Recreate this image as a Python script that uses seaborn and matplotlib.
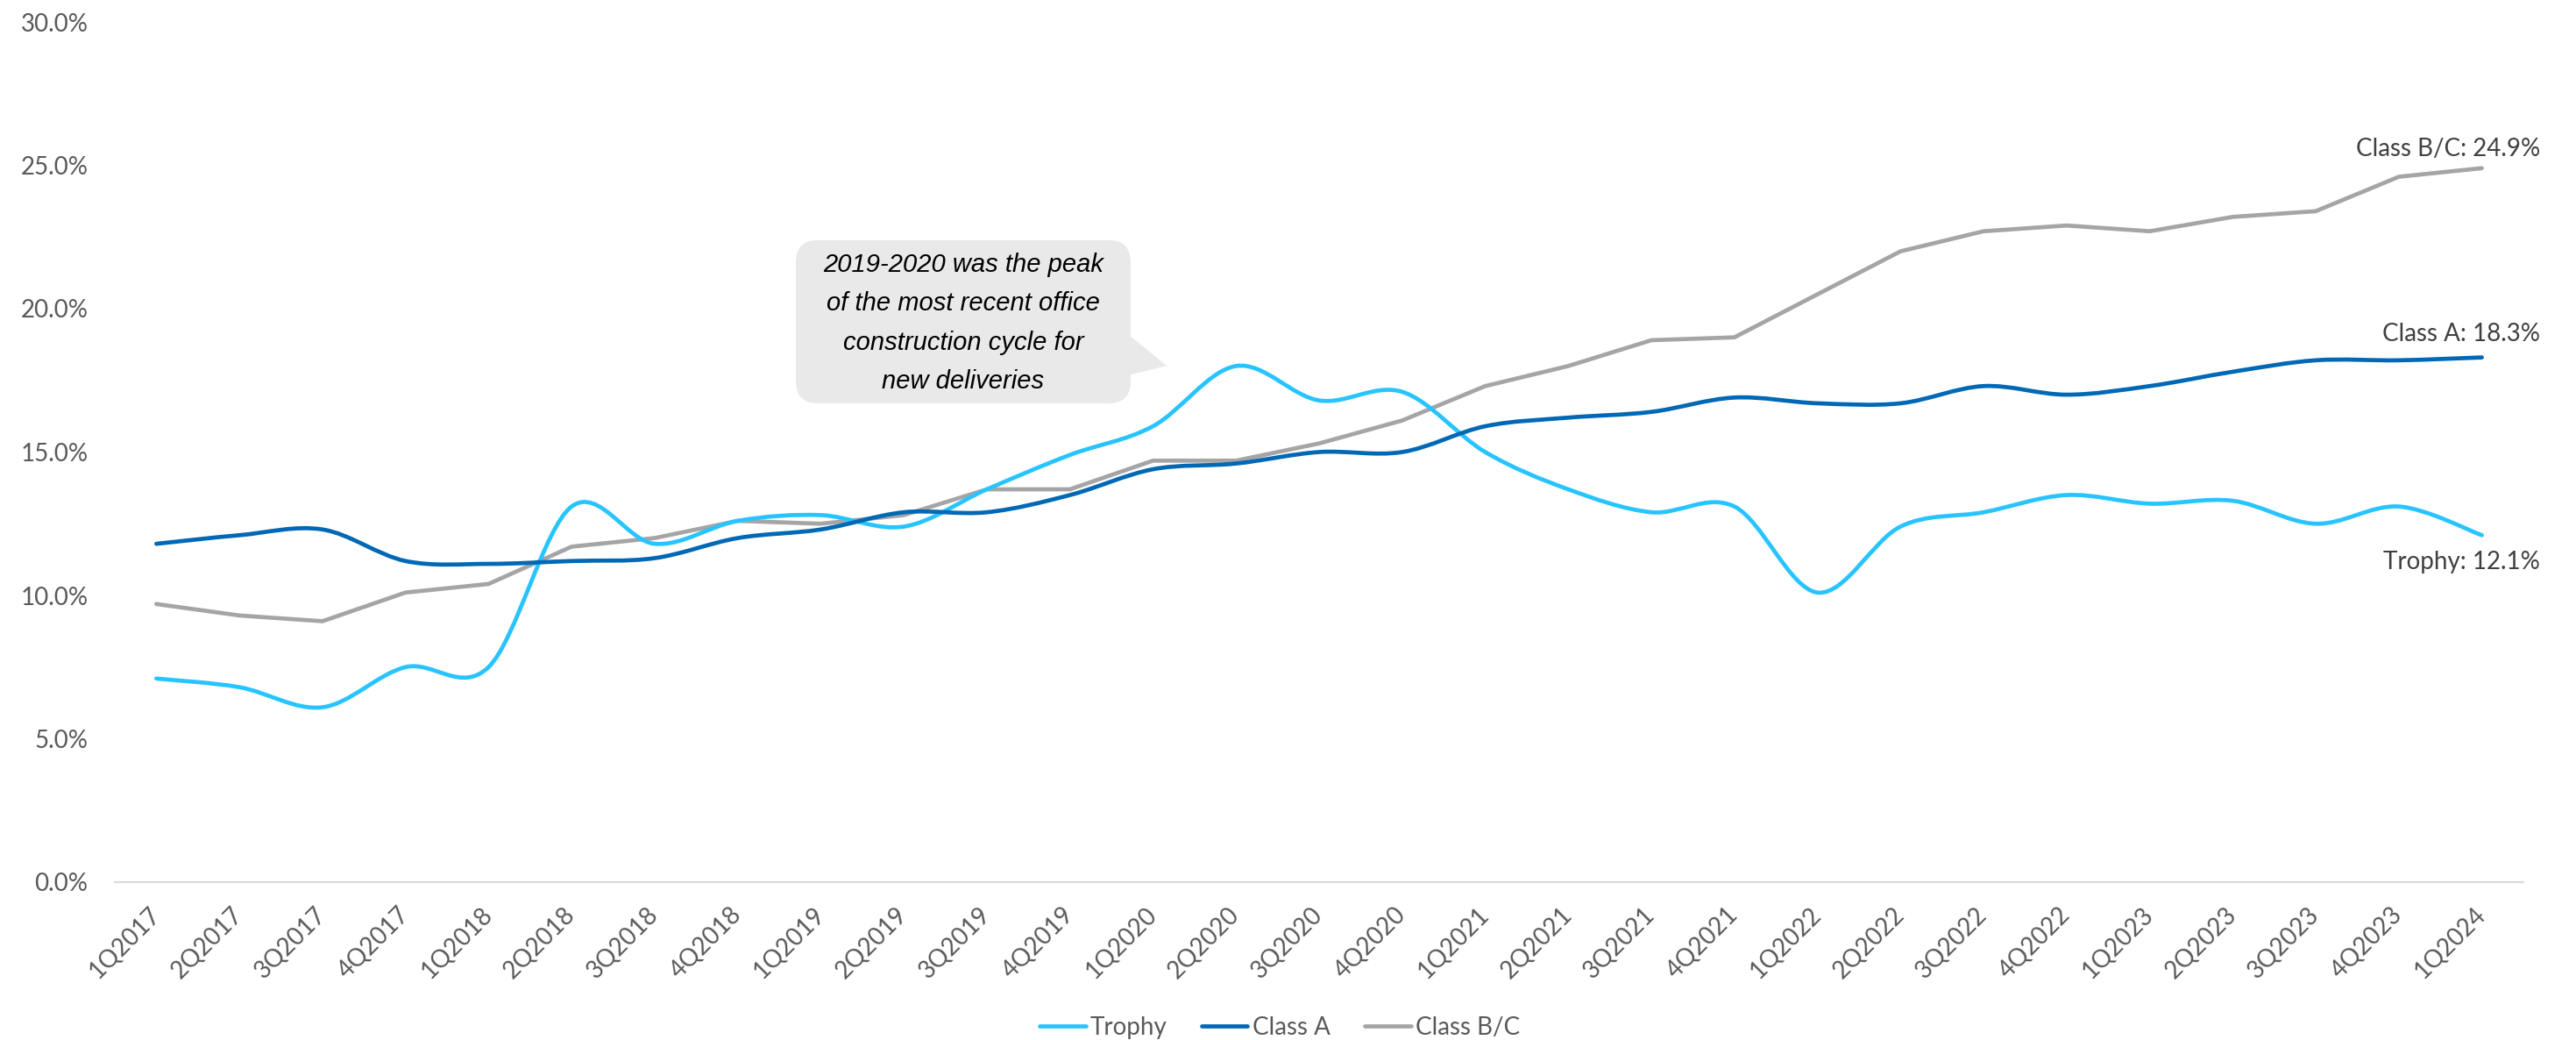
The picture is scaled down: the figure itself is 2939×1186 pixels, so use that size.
import numpy as np
import pandas as pd
import matplotlib
matplotlib.use("Agg")
import matplotlib.pyplot as plt
from matplotlib.path import Path
from matplotlib.patches import PathPatch, FancyBboxPatch, Polygon
import seaborn as sns

# Vacancy rate by building class, quarterly
quarters = ["1Q2017", "2Q2017", "3Q2017", "4Q2017",
            "1Q2018", "2Q2018", "3Q2018", "4Q2018",
            "1Q2019", "2Q2019", "3Q2019", "4Q2019",
            "1Q2020", "2Q2020", "3Q2020", "4Q2020",
            "1Q2021", "2Q2021", "3Q2021", "4Q2021",
            "1Q2022", "2Q2022", "3Q2022", "4Q2022",
            "1Q2023", "2Q2023", "3Q2023", "4Q2023",
            "1Q2024"]

trophy = [7.1, 6.8, 6.1, 7.5, 7.5, 13.1, 11.8, 12.6, 12.8, 12.4,
          13.7, 14.9, 15.9, 18.0, 16.8, 17.1, 15.0, 13.7, 12.9, 13.1,
          10.1, 12.4, 12.9, 13.5, 13.2, 13.3, 12.5, 13.1, 12.1]

class_a = [11.8, 12.1, 12.3, 11.2, 11.1, 11.2, 11.3, 12.0, 12.3, 12.9,
           12.9, 13.5, 14.4, 14.6, 15.0, 15.0, 15.9, 16.2, 16.4, 16.9,
           16.7, 16.7, 17.3, 17.0, 17.3, 17.8, 18.2, 18.2, 18.3]

class_bc = [9.7, 9.3, 9.1, 10.1, 10.4, 11.7, 12.0, 12.6, 12.5, 12.8,
            13.7, 13.7, 14.7, 14.7, 15.3, 16.1, 17.3, 18.0, 18.9, 19.0,
            20.5, 22.0, 22.7, 22.9, 22.7, 23.2, 23.4, 24.6, 24.9]

series_names = ["Trophy", "Class A", "Class B/C"]
series_values = [trophy, class_a, class_bc]
series_colors = ["#27C4FF", "#0068B5", "#A5A5A5"]
smoothed = {"Trophy": True, "Class A": True, "Class B/C": False}

y_ticks = [0, 5, 10, 15, 20, 25, 30]
callout = "2019-2020 was the peak\nof the most recent office\nconstruction cycle for\nnew deliveries"

frames = []
for name, vals in zip(series_names, series_values):
    frames.append(pd.DataFrame({"pos": np.arange(len(quarters)),
                                "quarter": quarters,
                                "rate": vals,
                                "series": name}))
df = pd.concat(frames, ignore_index=True)

sns.set_style("white")
plt.rcParams["font.family"] = ["Lato", "DejaVu Sans"]

W, H = 2939, 1186
fig = plt.figure(figsize=(W / 100, H / 100), dpi=100)
ax = fig.add_axes([131 / W, 1 - 1006 / H, (2879 - 131) / W, (1006 - 25) / H])

LW = 3.4
sns.lineplot(data=df, x="pos", y="rate", hue="series", hue_order=series_names,
             palette=series_colors, linewidth=LW, sort=False, ax=ax,
             solid_capstyle="round", solid_joinstyle="round")


def smooth_path(xy):
    """Cubic Bezier path through every point (spreadsheet-style smoothing)."""
    x, y = xy[:, 0], xy[:, 1]
    n = len(x)
    verts = [(x[0], y[0])]
    codes = [Path.MOVETO]
    for i in range(n - 1):
        p0 = i - 1 if i > 0 else i
        p3 = i + 2 if i + 2 < n else i + 1
        c1 = (x[i] + (x[i + 1] - x[p0]) / 6, y[i] + (y[i + 1] - y[p0]) / 6)
        c2 = (x[i + 1] - (x[p3] - x[i]) / 6, y[i + 1] - (y[p3] - y[i]) / 6)
        verts += [c1, c2, (x[i + 1], y[i + 1])]
        codes += [Path.CURVE4] * 3
    return Path(verts, codes)


for name, color, line in zip(series_names, series_colors, list(ax.lines)[:3]):
    if smoothed[name]:
        patch = PathPatch(smooth_path(line.get_xydata()), facecolor="none",
                          edgecolor=color, linewidth=LW, capstyle="round",
                          joinstyle="round", zorder=line.get_zorder())
        ax.add_patch(patch)
        line.set_visible(False)

ax.set_xlim(-0.5, len(quarters) - 0.5)
ax.set_ylim(0, 30)
ax.set_xticks(np.arange(len(quarters)))
ax.set_xticklabels(quarters)
ax.set_yticks(y_ticks)
ax.set_yticklabels([f"{v:.1f}%" for v in y_ticks])
ax.set_xlabel("")
ax.set_ylabel("")

for side in ["left", "right", "top"]:
    ax.spines[side].set_visible(False)
ax.spines["bottom"].set_color("#D9D9D9")
ax.spines["bottom"].set_linewidth(1.5)

ax.tick_params(axis="y", length=0, pad=22, labelsize=20, labelcolor="#595959")
ax.tick_params(axis="x", length=0, pad=24, labelsize=20, labelcolor="#595959")
plt.setp(ax.get_xticklabels(), rotation=45, ha="right", va="center",
         rotation_mode="anchor")

# End-of-series value labels
label_offsets = {"Trophy": -28, "Class A": 13.5, "Class B/C": 10}
last = len(quarters) - 1
for name, vals in zip(series_names, series_values):
    ax.annotate(f"{name}: {vals[-1]:.1f}%", xy=(last, vals[-1]),
                xytext=(48, label_offsets[name]), textcoords="offset points",
                ha="right", va="baseline", fontsize=20, color="#404040")

# Speech-bubble callout
px_x = (2879 - 131) / len(quarters)
px_y = (1006 - 25) / 30
aspect = px_x / px_y
bx0, bx1 = 7.70, 11.73
by0, by1 = 16.70, 22.39
r = 25 / px_x
bubble = FancyBboxPatch((bx0, by0), bx1 - bx0, by1 - by0,
                        boxstyle=f"round,pad=0,rounding_size={r}",
                        mutation_aspect=aspect, facecolor="#E9E9E9",
                        edgecolor="none", zorder=5)
ax.add_patch(bubble)
tail = Polygon([(bx1 - 0.02, 19.08), (12.165, 18.01), (bx1 - 0.02, 17.68)],
               closed=True, facecolor="#E9E9E9", edgecolor="none", zorder=5)
ax.add_patch(tail)
ax.text((bx0 + bx1) / 2, 19.5, callout, ha="center", va="center",
        multialignment="center", fontsize=21, style="italic",
        family=["Liberation Sans", "DejaVu Sans"], color="black",
        linespacing=1.75, zorder=6)

sns.move_legend(ax, "center", bbox_to_anchor=(1460 / W, 14 / H),
                bbox_transform=fig.transFigure, ncol=3, frameon=False,
                title=None, fontsize=20, handlelength=1.9,
                handletextpad=0.2, columnspacing=1.4)
leg = ax.get_legend()
for t in leg.get_texts():
    t.set_color("#595959")
for h in leg.legend_handles:
    h.set_linewidth(LW)
    h.set_solid_capstyle("round")

fig.savefig("out.png", dpi=100, facecolor="white")
